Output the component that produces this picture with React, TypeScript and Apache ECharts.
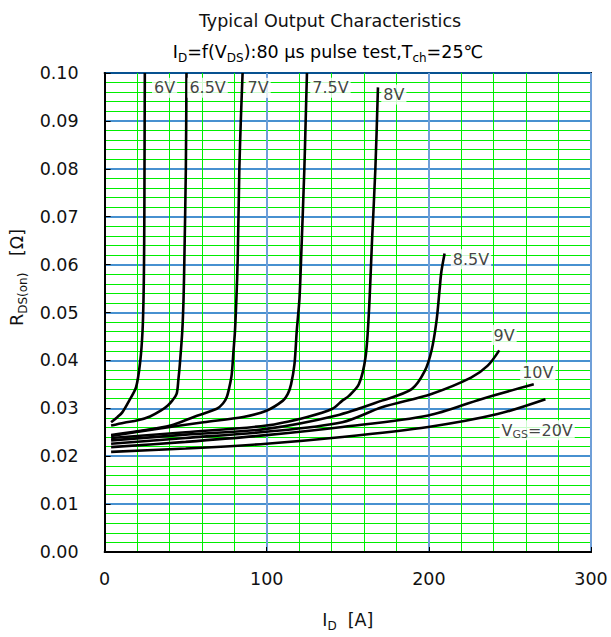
import React, { useEffect, useRef } from "react";
import * as echarts from "echarts";

const xTicks = [0, 100, 200, 300];
const yTicks = [0, 0.01, 0.02, 0.03, 0.04, 0.05, 0.06, 0.07, 0.08, 0.09, 0.1];

const curve6V = [[4, 0.0271], [8, 0.0282], [11, 0.0292], [15, 0.0315], [19.4, 0.0344], [22, 0.0399], [23.4, 0.0462], [24, 0.053], [24.3, 0.06], [24.5, 0.07], [24.6, 0.08], [24.7, 0.09], [24.8, 0.1]];
const curve6_5V = [[4, 0.0264], [12, 0.027], [20.4, 0.0275], [28, 0.0283], [34.6, 0.0295], [39, 0.0306], [41.7, 0.0316], [44.4, 0.033], [45.5, 0.036], [46.4, 0.0392], [47.9, 0.0461], [48.7, 0.053], [49.2, 0.0613], [50.1, 0.08], [50.5, 0.1]];
const curve7V = [[4, 0.0244], [20, 0.0252], [40.7, 0.0264], [55, 0.0282], [69.2, 0.0299], [73, 0.031], [75.3, 0.0323], [77, 0.0345], [78.4, 0.0371], [79.5, 0.042], [80.4, 0.0461], [81.3, 0.053], [82.1, 0.0613], [83.1, 0.08], [84, 0.09], [85.1, 0.1]];
const curve7_5V = [[4, 0.0242], [30, 0.0256], [61.1, 0.0271], [85.5, 0.0282], [99.8, 0.0295], [110, 0.0316], [113, 0.033], [115, 0.035], [117.1, 0.0392], [118.5, 0.0461], [120.2, 0.053], [121.2, 0.0613], [123.2, 0.08], [124, 0.09], [124.8, 0.1]];
const curve8V = [[4, 0.0238], [50, 0.025], [99.8, 0.0264], [125, 0.0282], [140.5, 0.0299], [146.6, 0.0316], [150.7, 0.0326], [156.8, 0.035], [160.9, 0.0406], [163, 0.05], [165, 0.0654], [167, 0.08], [168.6, 0.097]];
const curve8_5V = [[4, 0.0233], [50, 0.0245], [99.8, 0.0257], [143, 0.0285], [171, 0.0316], [189.4, 0.034], [197.5, 0.0378], [201.6, 0.042], [204.7, 0.0482], [206.7, 0.0551], [207.7, 0.0585], [209.7, 0.0623]];
const curve9V = [[4, 0.0226], [50, 0.0238], [99.8, 0.0251], [146.6, 0.0271], [171, 0.0302], [201.6, 0.033], [226, 0.0364], [236.3, 0.0389], [243.4, 0.0421]];
const curve10V = [[4, 0.0219], [50, 0.023], [99.8, 0.0244], [146.6, 0.0261], [199.6, 0.0285], [232.2, 0.0319], [264.7, 0.035]];
const curve20V = [[4, 0.0209], [50, 0.0216], [99.8, 0.0226], [146.6, 0.024], [199.6, 0.0261], [242.4, 0.0288], [271.9, 0.0319]];

const curves = [curve6V, curve6_5V, curve7V, curve7_5V, curve8V, curve8_5V, curve9V, curve10V, curve20V];
const curveNames = ["6V", "6.5V", "7V", "7.5V", "8V", "8.5V", "9V", "10V", "20V"];

const curveLabels = [
  [37, 0.0969, "{n|6V}"],
  [63.5, 0.0969, "{n|6.5V}"],
  [94.7, 0.0969, "{n|7V}"],
  [139.3, 0.0969, "{n|7.5V}"],
  [178.4, 0.0955, "{n|8V}"],
  [226, 0.0611, "{n|8.5V}"],
  [246.4, 0.0453, "{n|9V}"],
  [267.2, 0.0375, "{n|10V}"],
  [266.8, 0.0254, "{n|V}{s|GS}{n|=20V}"],
];

const FONT = "DejaVu Sans, Verdana, 'Noto Sans CJK JP', sans-serif";

export default function App() {
  const ref = useRef<HTMLDivElement>(null);
  useEffect(() => {
    if (!ref.current) return;
    const chart = echarts.init(ref.current, undefined, { renderer: "svg" });
    const subRich = {
      n: { fontSize: 17.5, fontFamily: FONT, color: "#111", lineHeight: 24, verticalAlign: "middle" },
      s: { fontSize: 12, fontFamily: FONT, color: "#111", lineHeight: 12, verticalAlign: "bottom" },
    };
    const lineSeries = curves.map((c, i) => ({
      type: "line",
      name: curveNames[i],
      data: c,
      showSymbol: false,
      symbol: "none",
      smooth: 0.3,
      lineStyle: { color: "#000", width: 2.6 },
      z: 5,
      silent: true,
    }));
    chart.setOption({
      animation: false,
      backgroundColor: "#fff",
      grid: { left: 100, right: 20, top: 73, bottom: 81 },
      graphic: [
        {
          type: "text",
          x: 330,
          y: 21,
          style: {
            text: "Typical Output Characteristics",
            fontSize: 17.5,
            fontFamily: FONT,
            fill: "#111",
            textAlign: "center",
            textVerticalAlign: "middle",
          },
        },
        {
          type: "text",
          x: 328,
          y: 52,
          style: {
            text: "{n|I}{s|D}{n|=f(V}{s|DS}{n|):80 μs pulse test,T}{s|ch}{n|=25℃}",
            rich: subRich,
            textAlign: "center",
            textVerticalAlign: "middle",
          },
        },
      ],
      xAxis: [
        {
          type: "value",
          min: 0,
          max: 300,
          interval: 100,
          name: "{n|I}{s|D}{n|  [A]}",
          nameLocation: "middle",
          nameGap: 56,
          nameTextStyle: { rich: subRich },
          axisLine: { show: true, onZero: false, lineStyle: { color: "#000", width: 2 } },
          axisTick: { show: true, inside: true, length: 5, lineStyle: { color: "#000" } },
          axisLabel: { fontSize: 17.5, fontFamily: FONT, color: "#111", margin: 18, formatter: (v: number) => (xTicks.includes(v) ? String(v) : "") },
          splitLine: { show: true, lineStyle: { color: "#6f9fd8", width: 2 } },
          minorTick: { show: false, splitNumber: 5 },
          minorSplitLine: { show: true, lineStyle: { color: "#00ee00", width: 1, opacity: 1 } },
          z: 3,
        },
        {
          type: "value",
          position: "top",
          min: 0,
          max: 300,
          interval: 100,
          axisLine: { show: true, onZero: false, lineStyle: { color: "#000", width: 2 } },
          axisTick: { show: false },
          axisLabel: { show: false },
          splitLine: { show: false },
        },
      ],
      yAxis: [
        {
          type: "value",
          min: 0,
          max: 0.1,
          interval: 0.01,
          name: "{n|R}{s|DS(on)}{n|   [Ω]}",
          nameLocation: "middle",
          nameGap: 70,
          nameRotate: 90,
          nameTextStyle: { rich: subRich, padding: [0, 0, 0, 70] },
          axisLine: { show: true, onZero: false, lineStyle: { color: "#000", width: 2 } },
          axisTick: { show: true, inside: true, length: 6, lineStyle: { color: "#000" } },
          axisLabel: {
            fontSize: 17.5,
            fontFamily: FONT,
            color: "#111",
            margin: 26,
            formatter: (v: number) => {
              const t = yTicks.find((y) => Math.abs(y - v) < 1e-9);
              return t === undefined ? "" : t.toFixed(2);
            },
          },
          splitLine: { show: true, lineStyle: { color: "#0a6cc0", width: 1.5 } },
          minorTick: { show: false, splitNumber: 5 },
          minorSplitLine: { show: true, lineStyle: { color: "#00ee00", width: 1, opacity: 1 } },
          z: 3,
        },
        {
          type: "value",
          position: "right",
          min: 0,
          max: 0.1,
          interval: 0.01,
          axisLine: { show: true, onZero: false, lineStyle: { color: "#000", width: 2 } },
          axisTick: { show: false },
          axisLabel: { show: false },
          splitLine: { show: false },
        },
      ],
      series: [
        ...lineSeries,
        {
          type: "scatter",
          data: curveLabels,
          symbolSize: 0,
          silent: true,
          z: 10,
          label: {
            show: true,
            position: "inside",
            formatter: (p: any) => p.data[2],
            backgroundColor: "#fff",
            padding: [0, 2],
            rich: {
              n: { fontSize: 16, fontFamily: FONT, color: "#111", lineHeight: 20, verticalAlign: "middle" },
              s: { fontSize: 11, fontFamily: FONT, color: "#111", lineHeight: 10, verticalAlign: "bottom" },
            },
          },
        },
      ],
    });
    return () => chart.dispose();
  }, []);
  return <div ref={ref} style={{ position: "absolute", left: 0, top: 0, width: 611, height: 637 }} />;
}
